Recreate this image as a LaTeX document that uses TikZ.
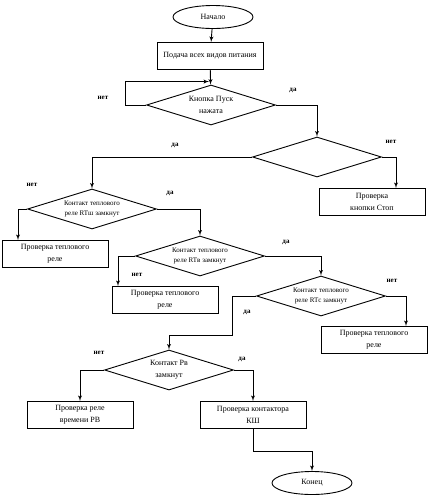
\documentclass[tikz,border=0pt]{standalone}
\usepackage{fontspec}
\setmainfont{Liberation Serif}
\usepackage{tikz}
\usetikzlibrary{shapes.geometric, arrows, calc}

\begin{document}
\begin{tikzpicture}[x=1pt, y=-1pt, font=\fontsize{8}{12}\selectfont,
        terminal/.style={ellipse, draw, line width=0.9pt, minimum width=80pt, minimum height=23pt, inner sep=0pt},
        block/.style={rectangle, draw, line width=0.9pt, minimum width=106pt, minimum height=27pt, align=center, inner sep=1pt},
        decision/.style={diamond, draw, line width=0.9pt, shape aspect=3.2, minimum width=129pt, minimum height=40pt, inner sep=0pt, align=center},
        small/.style={font=\fontsize{7}{10}\selectfont},
        answer/.style={font=\bfseries\fontsize{7}{8}\selectfont},
        line/.style={draw, -latex', line width=0.9pt}]

        \useasboundingbox (0,0) rectangle (429,496);

        % Nodes
        \node [terminal] (start) at (213,17) {Начало};
        \node [block] (power) at (210,56) {Подача всех видов питания};
        \node [decision] (push) at (211,105) {Кнопка Пуск\\нажата};
        \node [decision] (state) at (317,157) {};
        \node [block] (stop) at (372,202) {Проверка\\кнопки Стоп};
        \node [decision, small] (rtsh) at (92,209) {Контакт теплового\\реле RTш замкнут};
        \node [block] (chksh) at (55,254) {Проверка теплового\\реле};
        \node [decision, small] (rtv) at (200,256) {Контакт теплового\\реле RTв замкнут};
        \node [block] (chkv) at (165,300) {Проверка теплового\\реле};
        \node [decision, small] (rts) at (321,296) {Контакт теплового\\реле RTс замкнут};
        \node [block] (chks) at (374,340) {Проверка теплового\\реле};
        \node [decision] (rv) at (169,370) {Контакт Рв\\замкнут};
        \node [block] (chkrv) at (80,415) {Проверка реле\\времени РВ};
        \node [block] (chkksh) at (253,415) {Проверка контактора\\КШ};
        \node [terminal] (finish) at (312,483) {Конец};

        % Arrows
        \path [line] (start) -- (power);
        \path [line] (power) -- (push);
        \path [line] (push.west) -- ++(-21,0) |- ([xshift=-2pt, yshift=3pt]push.north);
        \path [line] (push.east) -| (state.north);
        \path [line] (state.west) -| (rtsh.north);
        \path [line] (state.east) -| ([xshift=24pt]stop.north);
        \path [line] (rtsh.west) -| ([xshift=-37pt]chksh.north);
        \path [line] (rtsh.east) -| (rtv.north);
        \path [line] (rtv.west) -| ([xshift=-47pt]chkv.north);
        \path [line] (rtv.east) -| (rts.north);
        \path [line] (rts.east) -| ([xshift=32pt]chks.north);
        \path [line] (rts.west) -- ++(-24,0) -- ++(0,39) -| (rv.north);
        \path [line] (rv.west) -| (chkrv.north);
        \path [line] (rv.east) -| (chkksh.north);
        \path [line] (chkksh.south) -- ++(0,22) -| (finish.north);

        % Labels
        \node [answer] at (103,98) {нет};
        \node [answer] at (293,90) {да};
        \node [answer] at (175,145) {да};
        \node [answer] at (391,142) {нет};
        \node [answer] at (32,185) {нет};
        \node [answer] at (170,193) {да};
        \node [answer] at (286,242) {да};
        \node [answer] at (137,275) {нет};
        \node [answer] at (392,281) {нет};
        \node [answer] at (247,312) {да};
        \node [answer] at (99,353) {нет};
        \node [answer] at (242,359) {да};
    \end{tikzpicture}
\end{document}
